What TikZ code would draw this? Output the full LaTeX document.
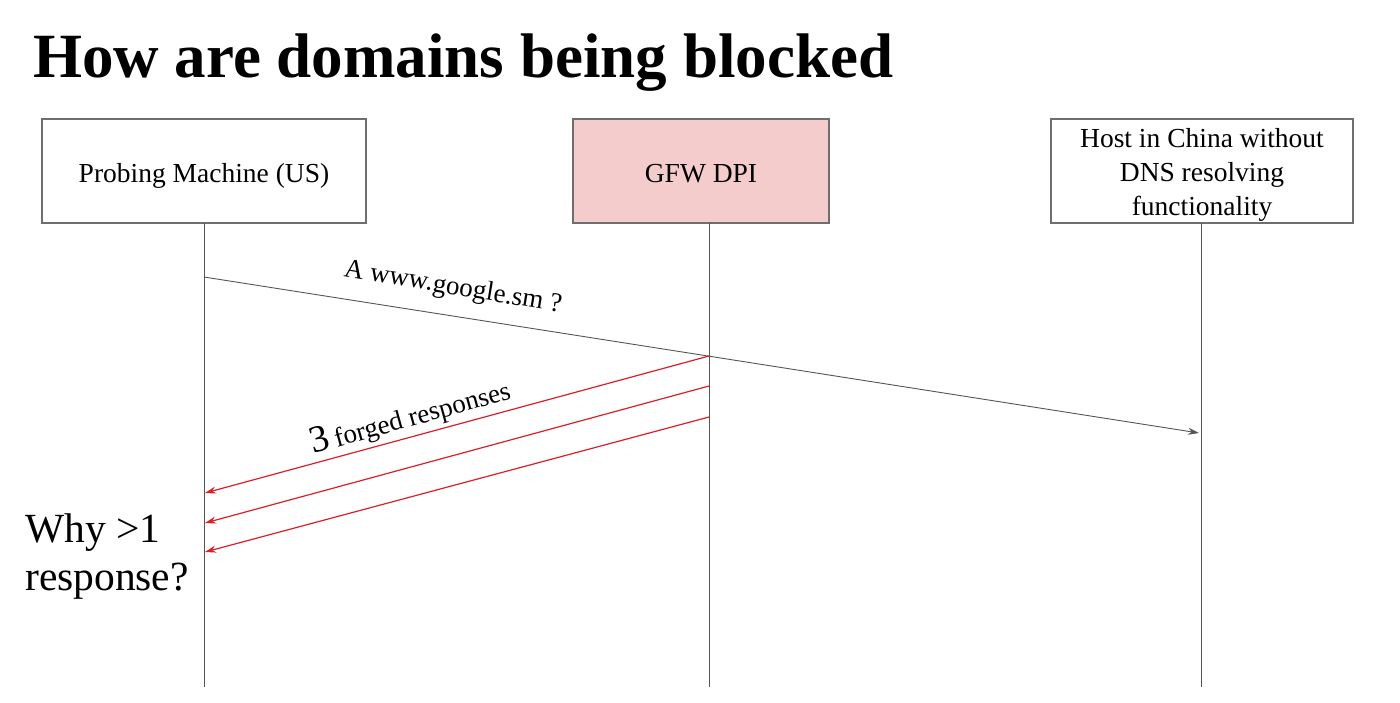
\documentclass[tikz,border=0pt]{standalone}
\usepackage{fontspec}
\setmainfont{Liberation Serif}
\usetikzlibrary{arrows.meta}
\definecolor{boxgray}{RGB}{110,110,110}
\definecolor{linegray}{RGB}{85,85,85}
\definecolor{gfwpink}{RGB}{244,204,204}
\definecolor{fred}{RGB}{220,30,40}
\begin{document}
\begin{tikzpicture}[x=1pt,y=-1pt,
  actor/.style={draw=boxgray,line width=1.2pt,minimum width=#1,minimum height=104pt,inner sep=0pt},
  actortext/.style={inner sep=0pt,align=center,anchor=base,font=\fontsize{27.5}{34}\selectfont},
  life/.style={draw=linegray,line width=0.9pt},
  msg/.style={draw=linegray,line width=0.9pt,-{Stealth[length=11pt,width=7pt]}},
  forged/.style={draw=fred,line width=1.2pt,-{Stealth[length=11pt,width=7pt]}},
  lbl/.style={inner sep=0pt,font=\fontsize{27}{30}\selectfont}]
\useasboundingbox (0,0) rectangle (1400,702);
\node[anchor=base west,inner sep=0pt,font=\fontsize{63}{70}\selectfont\bfseries] (title) at (33,77) {How are domains being blocked};
\node[actor=324pt] (pm) at (204,171) {};
\node[actor=256pt,fill=gfwpink] (gfw) at (701,171) {};
\node[actor=302pt] (host) at (1202,171) {};
\node[actortext] (pmL) at (204,182) {Probing Machine (US)};
\node[actortext] (gfwL) at (701,182) {GFW DPI};
\node[actortext] (hostL) at (1202,215) {Host in China without\\DNS resolving\\functionality};
\coordinate (pmE) at (204,687);
\coordinate (gfwE) at (709,687);
\coordinate (hostE) at (1201,687);
\coordinate (pmT) at (204,223);
\coordinate (gfwT) at (709,223);
\coordinate (hostT) at (1201,223);
\draw[life] (pmT) -- (pmE);
\draw[life] (gfwT) -- (gfwE);
\draw[life] (hostT) -- (hostE);
\coordinate (q0) at (204,277);
\coordinate (q1) at (1199,433);
\draw[msg] (q0) -- (q1);
\coordinate (a0) at (709,356);
\coordinate (a1) at (205,493);
\coordinate (b0) at (709,386);
\coordinate (b1) at (205,523);
\coordinate (c0) at (709,417);
\coordinate (c1) at (205,552);
\draw[forged] (a0) -- (a1);
\draw[forged] (b0) -- (b1);
\draw[forged] (c0) -- (c1);
\node[lbl,rotate=-9.5] (ql) at (453,288) {A www.google.sm ?};
\node[lbl,rotate=15.5,anchor=base] (fl) at (413,426) {\fontsize{38}{40}\selectfont 3\hspace{5pt}\fontsize{27}{30}\selectfont forged responses};
\node[anchor=base west,inner sep=0pt,align=left,font=\fontsize{41.5}{48}\selectfont] (why) at (25,590) {Why {>}1\\response?};
\end{tikzpicture}
\end{document}
